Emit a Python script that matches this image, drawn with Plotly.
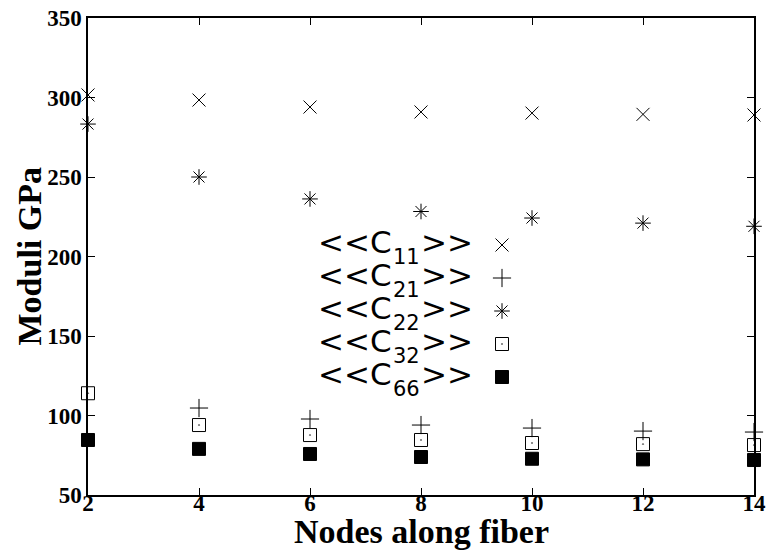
import plotly.graph_objects as go

# Effective moduli vs. number of nodes along the fiber
nodes = [2, 4, 6, 8, 10, 12, 14]
c11 = [301.6, 298.4, 294.0, 290.9, 290.2, 289.4, 289.0]
c21 = [None, 104.7, 97.8, 94.0, 92.1, 90.2, 89.6]
c22 = [283.3, 250.0, 236.2, 228.3, 224.2, 221.0, 219.0]
c32 = [114.0, 94.0, 87.7, 84.6, 82.7, 82.0, 81.4]
c66 = [84.6, 79.0, 75.8, 73.9, 72.8, 72.4, 72.0]

series_names = ["11", "21", "22", "32", "66"]
series_values = [c11, c21, c22, c32, c66]
symbols = ["x-thin-open", "cross-thin-open", "asterisk-open", "square-open-dot", "square"]

x_ticks = [2, 4, 6, 8, 10, 12, 14]
y_ticks = [50, 100, 150, 200, 250, 300, 350]

x_title = "Nodes along fiber"
y_title = "Moduli GPa"

serif = "Liberation Serif"
sans = "DejaVu Sans"

W, H = 770, 552
M_L, M_R, M_T, M_B = 88, 16, 18, 57
PW, PH = W - M_L - M_R, H - M_T - M_B


def px(x):
    return (x - M_L) / PW


def py(y):
    return (H - M_B - y) / PH


fig = go.Figure()
for name, vals, sym in zip(series_names, series_values, symbols):
    fig.add_trace(go.Scatter(
        x=nodes, y=vals, mode="markers", name=name, showlegend=False,
        cliponaxis=False,
        marker=dict(symbol=sym, size=13, color="black",
                    line=dict(color="black", width=1)),
    ))

# key block: "<<C", subscript index, ">>" and the sample symbol
row_y = [242, 275, 308, 341, 374]
main_font = dict(family=sans, size=31, color="black")
sub_font = dict(family=sans, size=21, color="black")
for name, sym, ry in zip(series_names, symbols, row_y):
    fig.add_trace(go.Scatter(
        x=[px(502)], y=[py(ry + 3)], xaxis="x2", yaxis="y2", mode="markers",
        showlegend=False, hoverinfo="skip", cliponaxis=False,
        marker=dict(symbol=sym, size=13, color="black",
                    line=dict(color="black", width=1)),
    ))
    fig.add_annotation(x=px(394), y=py(ry), xref="paper", yref="paper",
                       xanchor="right", yanchor="middle", showarrow=False,
                       text="&lt;&lt;C", font=main_font)
    fig.add_annotation(x=px(391), y=py(ry + 15), xref="paper", yref="paper",
                       xanchor="left", yanchor="middle", showarrow=False,
                       text=name, font=sub_font)
    fig.add_annotation(x=px(419), y=py(ry), xref="paper", yref="paper",
                       xanchor="left", yanchor="middle", showarrow=False,
                       text="&gt;&gt;", font=main_font)

# axis titles
title_font = dict(family=serif, size=34, color="black", weight="bold")
fig.add_annotation(x=0.5, y=py(551), xref="paper", yref="paper",
                   xanchor="center", yanchor="bottom", showarrow=False,
                   text=x_title, font=title_font, borderpad=0)
fig.add_annotation(x=px(29), y=0.5, xref="paper", yref="paper",
                   xanchor="center", yanchor="middle", showarrow=False,
                   textangle=-90, text=y_title, font=title_font)

axis_common = dict(
    showline=True, linecolor="black", linewidth=1.5, mirror="ticks",
    ticks="inside", ticklen=7, tickwidth=1, tickcolor="black",
    showgrid=False, zeroline=False, automargin=False,
    tickfont=dict(family=serif, size=23, color="black", weight="bold"),
)

fig.update_layout(
    width=W, height=H,
    margin=dict(l=M_L, r=M_R, t=M_T, b=M_B),
    paper_bgcolor="white", plot_bgcolor="white",
    xaxis=dict(
        range=[2, 14], tickvals=x_ticks, ticktext=[str(v) for v in x_ticks],
        ticklabelstandoff=-13,
        **axis_common,
    ),
    yaxis=dict(
        range=[50, 350], tickvals=y_ticks, ticktext=[str(v) for v in y_ticks],
        **axis_common,
    ),
    xaxis2=dict(overlaying="x", range=[0, 1], visible=False),
    yaxis2=dict(overlaying="y", range=[0, 1], visible=False),
)

fig.write_html("out.html")
